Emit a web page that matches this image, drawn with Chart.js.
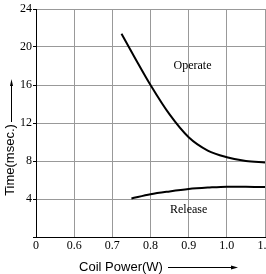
<!DOCTYPE html>
<html>
<head>
<meta charset="utf-8">
<script src="https://cdn.jsdelivr.net/npm/chart.js@4/dist/chart.umd.min.js"></script>
<style>
  html, body { margin: 0; padding: 0; background: #fff; }
  #c { display: block; }
</style>
</head>
<body>
<canvas id="c" width="266" height="274"></canvas>
<script>
// ---- data ----
const xTickLabels = ['0', '0.6', '0.7', '0.8', '0.9', '1.0', '1.1'];
const xTickValues = [0.5, 0.6, 0.7, 0.8, 0.9, 1.0, 1.1];
const yTickValues = [0, 4, 8, 12, 16, 20, 24];
const yTickLabels = ['', '4', '8', '12', '16', '20', '24'];

const operatePower = [0.724, 0.76, 0.8, 0.85, 0.9, 0.95, 1.0, 1.05, 1.1];
const operateTime  = [21.4, 18.8, 16.0, 12.9, 10.5, 9.1, 8.4, 8.0, 7.85];

const releasePower = [0.75, 0.8, 0.85, 0.9, 0.95, 1.0, 1.05, 1.1];
const releaseTime  = [4.05, 4.5, 4.8, 5.05, 5.2, 5.3, 5.3, 5.25];

const curveNames = ['Operate', 'Release'];
const labelPower = [0.91, 0.9];
const labelTime  = [18.0, 2.85];

const xTitle = 'Coil Power(W)';
const yTitle = 'Time(msec.)';

// ---- chart ----
const toPts = (xs, ys) => xs.map((x, i) => ({ x: x, y: ys[i] }));

const decor = {
  id: 'decor',
  afterDatasetsDraw(chart) {
    const ctx = chart.ctx;
    const xs = chart.scales.x, ys = chart.scales.y;
    ctx.save();
    ctx.fillStyle = '#000';
    ctx.font = '12px "Liberation Serif"';
    ctx.textAlign = 'center';
    ctx.textBaseline = 'middle';
    curveNames.forEach((n, i) => {
      ctx.fillText(n, xs.getPixelForValue(labelPower[i]), ys.getPixelForValue(labelTime[i]));
    });
    ctx.font = '13px "Liberation Sans"';
    ctx.fillText(xTitle, 121, 267);
    ctx.strokeStyle = '#000';
    ctx.lineWidth = 1;
    ctx.beginPath();
    ctx.moveTo(168, 267.5); ctx.lineTo(236, 267.5); ctx.stroke();
    ctx.beginPath();
    ctx.moveTo(238, 267.5); ctx.lineTo(231, 265.5); ctx.lineTo(231, 269.5); ctx.closePath(); ctx.fill();
    ctx.save();
    ctx.translate(10, 160);
    ctx.rotate(-Math.PI / 2);
    ctx.fillText(yTitle, 0, 0);
    ctx.restore();
    ctx.beginPath();
    ctx.moveTo(11.5, 122); ctx.lineTo(11.5, 82); ctx.stroke();
    ctx.beginPath();
    ctx.moveTo(11.5, 79); ctx.lineTo(10, 86); ctx.lineTo(13, 86); ctx.closePath(); ctx.fill();
    ctx.restore();
  }
};

new Chart(document.getElementById('c'), {
  type: 'line',
  data: {
    datasets: [
      { label: curveNames[0], data: toPts(operatePower, operateTime), borderColor: '#000', borderWidth: 2, pointRadius: 0, cubicInterpolationMode: 'monotone', fill: false },
      { label: curveNames[1], data: toPts(releasePower, releaseTime), borderColor: '#000', borderWidth: 2, pointRadius: 0, cubicInterpolationMode: 'monotone', fill: false }
    ]
  },
  options: {
    responsive: false,
    animation: false,
    devicePixelRatio: 1,
    layout: { padding: { top: 9, right: 1, left: 0, bottom: 0 } },
    plugins: { legend: { display: false }, tooltip: { enabled: false } },
    scales: {
      x: {
        type: 'linear',
        min: 0.5, max: 1.1,
        afterBuildTicks(scale) { scale.ticks = xTickValues.map(v => ({ value: v })); },
        afterFit(scale) { scale.height = 37; scale.paddingLeft = 0; scale.paddingRight = 0; },
        ticks: {
          callback: (v, i) => xTickLabels[i],
          font: { family: 'Liberation Serif', size: 12 },
          color: '#000',
          padding: 2,
          maxRotation: 0,
          autoSkip: false
        },
        grid: { color: '#999', lineWidth: 1, drawTicks: false },
        border: { color: '#000', width: 1 }
      },
      y: {
        min: 0, max: 24,
        afterBuildTicks(scale) { scale.ticks = yTickValues.map(v => ({ value: v })); },
        afterFit(scale) { scale.width = 36; scale.paddingTop = 0; scale.paddingBottom = 0; },
        ticks: {
          callback: (v, i) => yTickLabels[i],
          font: { family: 'Liberation Serif', size: 12 },
          color: '#000',
          padding: 1
        },
        grid: { color: '#999', lineWidth: 1, tickLength: 3, tickColor: '#000' },
        border: { color: '#000', width: 1 }
      }
    }
  },
  plugins: [decor]
});
</script>
</body>
</html>
